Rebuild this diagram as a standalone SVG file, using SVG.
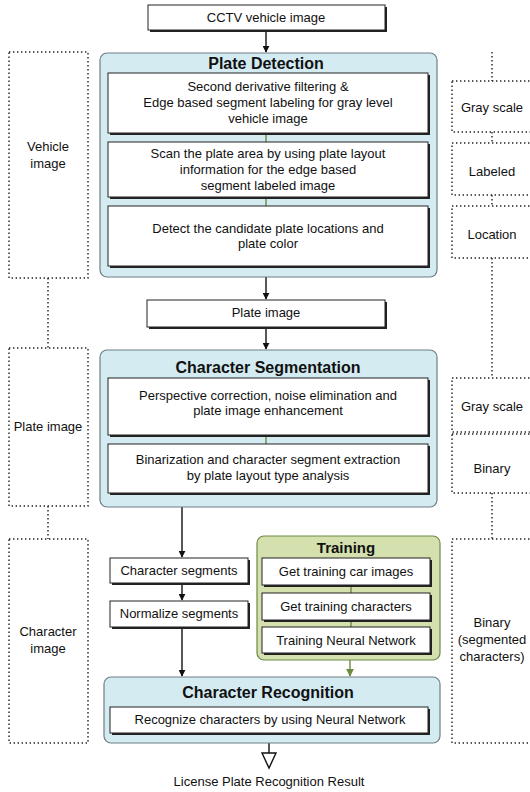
<svg xmlns="http://www.w3.org/2000/svg" width="530" height="792" viewBox="0 0 530 792">
<defs>
<style>
text{font-family:"Liberation Sans",Arial,sans-serif;font-size:13px;fill:#111;text-anchor:middle}
.t{font-weight:bold;font-size:16px}
.tt{font-weight:bold;font-size:15px}
.blue{fill:#d3ebf1;stroke:#6f7f86;stroke-width:1.2}
.green{fill:#d4e0ae;stroke:#6d8a45;stroke-width:1.2}
.box{fill:#fff;stroke:#222;stroke-width:1}
.sh{fill:#222}
.dot{fill:none;stroke:#222;stroke-width:1.4;stroke-dasharray:1.4 2.6}
.ar{stroke:#111;stroke-width:1.4;fill:none}
.gl{stroke:#6d8a45;stroke-width:1.4;fill:none}
</style>
<marker id="ah" viewBox="0 0 10 10" refX="9" refY="5" markerWidth="7" markerHeight="7" markerUnits="userSpaceOnUse" orient="auto"><path d="M0,0 L10,5 L0,10 z" fill="#111"/></marker>
<marker id="ahg" viewBox="0 0 10 10" refX="9" refY="5" markerWidth="8" markerHeight="8" markerUnits="userSpaceOnUse" orient="auto"><path d="M0,0 L10,5 L0,10 z" fill="#6d8a45"/></marker>
</defs>

<g id="side-labels">
<g id="vehicle-image-label"><rect class="dot" x="9" y="52" width="79" height="226"/><text x="48" y="151">Vehicle</text><text x="48" y="168">image</text></g>
<g id="plate-image-label"><rect class="dot" x="9" y="348" width="79" height="158"/><text x="48" y="431">Plate image</text></g>
<g id="character-image-label"><rect class="dot" x="9" y="539" width="79" height="204"/><text x="48" y="636">Character</text><text x="48" y="653">image</text></g>
<g id="gray-scale-1"><rect class="dot" x="452" y="81" width="82" height="51"/><text x="492" y="112">Gray scale</text></g>
<g id="labeled"><rect class="dot" x="452" y="143" width="82" height="52"/><text x="492" y="176">Labeled</text></g>
<g id="location"><rect class="dot" x="452" y="206" width="82" height="52"/><text x="492" y="239">Location</text></g>
<g id="gray-scale-2"><rect class="dot" x="452" y="378" width="82" height="54"/><text x="492" y="411">Gray scale</text></g>
<g id="binary"><rect class="dot" x="452" y="434" width="82" height="59"/><text x="492" y="473">Binary</text></g>
<g id="binary-segmented"><rect class="dot" x="452" y="539" width="82" height="204"/><text x="492" y="627">Binary</text><text x="492" y="644">(segmented</text><text x="492" y="661">characters)</text></g>
</g>

<g id="connectors">
<path class="dot" d="M492,52 V81 M492,132 V143 M492,195 V206 M492,258 V378 M492,493 V539 M48,278 V348 M48,506 V539"/>
<path class="ar" d="M266,30 V52" marker-end="url(#ah)"/>
<path class="ar" d="M266,277 V299" marker-end="url(#ah)"/>
<path class="ar" d="M266,327 V349" marker-end="url(#ah)"/>
<path class="ar" d="M182,507 V557" marker-end="url(#ah)"/>
<path class="ar" d="M182,583 V600" marker-end="url(#ah)"/>
<path class="ar" d="M182,627 V676" marker-end="url(#ah)"/>
<path class="gl" d="M350,660 V676" marker-end="url(#ahg)"/>
<path class="ar" d="M269,743 V753"/>
<path d="M262,753 L276,753 L269,768 z" fill="#fff" stroke="#111" stroke-width="1.4"/>
</g>

<g id="cctv-vehicle-image"><rect class="sh" x="150" y="7" width="237" height="25"/><rect class="box" x="148" y="5" width="237" height="25"/><text x="266" y="22">CCTV vehicle image</text></g>

<g id="plate-detection">
<rect class="blue" x="100" y="53" width="337" height="224" rx="7"/>
<text class="t" x="266" y="69">Plate Detection</text>
<path class="gl" d="M266,133 V142 M266,197 V206"/>
<g id="pd-step1"><rect class="sh" x="110" y="75" width="320" height="60"/><rect class="box" x="108" y="73" width="320" height="60"/><text x="268" y="91">Second derivative filtering &amp;</text><text x="268" y="107">Edge based segment labeling for gray level</text><text x="268" y="123">vehicle image</text></g>
<g id="pd-step2"><rect class="sh" x="110" y="144" width="320" height="55"/><rect class="box" x="108" y="142" width="320" height="55"/><text x="268" y="158">Scan the plate area by using plate layout</text><text x="268" y="174">information for the edge based</text><text x="268" y="190">segment labeled image</text></g>
<g id="pd-step3"><rect class="sh" x="110" y="208" width="320" height="60"/><rect class="box" x="108" y="206" width="320" height="60"/><text x="268" y="233">Detect the candidate plate locations and</text><text x="268" y="248">plate color</text></g>
</g>

<g id="plate-image"><rect class="sh" x="149" y="302" width="238" height="27"/><rect class="box" x="147" y="300" width="238" height="27"/><text x="266" y="317">Plate image</text></g>

<g id="character-segmentation">
<rect class="blue" x="100" y="350" width="337" height="157" rx="7"/>
<text class="t" x="268" y="373">Character Segmentation</text>
<path class="gl" d="M266,435 V444"/>
<g id="cs-step1"><rect class="sh" x="110" y="380" width="320" height="57"/><rect class="box" x="108" y="378" width="320" height="57"/><text x="268" y="400">Perspective correction, noise elimination and</text><text x="268" y="415">plate image enhancement</text></g>
<g id="cs-step2"><rect class="sh" x="110" y="446" width="320" height="49"/><rect class="box" x="108" y="444" width="320" height="49"/><text x="268" y="464">Binarization and character segment extraction</text><text x="268" y="480">by plate layout type analysis</text></g>
</g>

<g id="character-segments"><rect class="sh" x="112" y="560" width="138" height="25"/><rect class="box" x="110" y="558" width="138" height="25"/><text x="179" y="575">Character segments</text></g>
<g id="normalize-segments"><rect class="sh" x="112" y="603" width="138" height="26"/><rect class="box" x="110" y="601" width="138" height="26"/><text x="179" y="618">Normalize segments</text></g>

<g id="training">
<rect class="green" x="257" y="536" width="183" height="124" rx="7"/>
<text class="tt" x="346" y="553">Training</text>
<path class="gl" d="M351,585 V593 M351,620 V627"/>
<g id="tr-step1"><rect class="sh" x="264" y="560" width="168" height="27"/><rect class="box" x="262" y="558" width="168" height="27"/><text x="346" y="576">Get training car images</text></g>
<g id="tr-step2"><rect class="sh" x="264" y="595" width="168" height="27"/><rect class="box" x="262" y="593" width="168" height="27"/><text x="346" y="611">Get training characters</text></g>
<g id="tr-step3"><rect class="sh" x="264" y="629" width="168" height="26"/><rect class="box" x="262" y="627" width="168" height="26"/><text x="346" y="645">Training Neural Network</text></g>
</g>

<g id="character-recognition">
<rect class="blue" x="104" y="677" width="336" height="66" rx="7"/>
<text class="t" x="268" y="698">Character Recognition</text>
<g id="cr-step"><rect class="sh" x="112" y="709" width="318" height="26"/><rect class="box" x="110" y="707" width="318" height="26"/><text x="270" y="724">Recognize characters by using Neural Network</text></g>
</g>

<g id="result"><text x="269" y="786">License Plate Recognition Result</text></g>
</svg>
